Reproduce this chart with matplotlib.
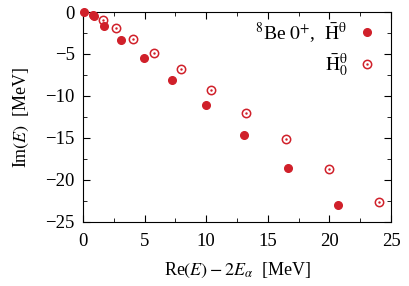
import matplotlib
matplotlib.use('Agg')
import matplotlib.pyplot as plt
from matplotlib.ticker import MultipleLocator
from matplotlib.lines import Line2D

plt.rcParams['font.family'] = ['Liberation Serif', 'DejaVu Serif']
plt.rcParams['mathtext.fontset'] = 'stix'

# H^theta (filled)
re_full = [0.08, 0.8, 0.9, 1.73, 3.11, 4.95, 7.25, 9.96, 13.1, 16.67, 20.67]
im_full = [0.0, -0.3, -0.5, -1.67, -3.33, -5.48, -8.1, -11.07, -14.6, -18.57, -23.0]
# H_0^theta (open)
re_zero = [1.6, 2.65, 4.03, 5.79, 7.93, 10.39, 13.23, 16.44, 20.0, 24.0]
im_zero = [-0.95, -1.9, -3.17, -4.84, -6.83, -9.25, -12.0, -15.12, -18.65, -22.58]

red = '#d0202a'

fig = plt.figure(figsize=(4.09, 2.86), dpi=100)
ax = fig.add_axes([0.203, 0.224, 0.753, 0.734])

ax.plot(re_full, im_full, 'o', color=red, ms=5.5, mec=red, clip_on=False, zorder=3)
ax.plot(re_zero, im_zero, 'o', color=red, ms=6, mfc='none', mew=1.1, clip_on=False)
ax.plot(re_zero, im_zero, '.', color=red, ms=1.5)

ax.set_xlim(0, 25)
ax.set_ylim(-25, 0)
ax.xaxis.set_major_locator(MultipleLocator(5))
ax.xaxis.set_minor_locator(MultipleLocator(2.5))
ax.yaxis.set_major_locator(MultipleLocator(5))
ax.yaxis.set_minor_locator(MultipleLocator(2.5))
ax.tick_params(which='both', direction='in', top=True, right=True, labelsize=13.5)
ax.tick_params(which='major', length=5)
ax.tick_params(which='minor', length=3)
ax.tick_params(axis='x', pad=8)
ax.tick_params(axis='y', pad=6)

ax.set_xlabel(r'Re$(E) - 2E_{\alpha}$  [MeV]', fontsize=13, labelpad=8)
ax.set_ylabel(r'Im$(E)$  [MeV]', fontsize=13, labelpad=10)

# legend handles: filled dot, open circle with centre dot
h_full = Line2D([], [], ls='none', marker='o', color=red, ms=5.5)
h_zero = (Line2D([], [], ls='none', marker='o', color=red, ms=6, mfc='none', mew=1.1),
          Line2D([], [], ls='none', marker='.', color=red, ms=1.5))
ax.legend([h_full, h_zero],
          [r'$^{8}$Be $0^{+}$,  $\bar{\mathrm{H}}^{\mathrm{\theta}}$',
           r'$\bar{\mathrm{H}}_{0}^{\mathrm{\theta}}$'],
          loc='upper right', bbox_to_anchor=(1.01, 1.045), frameon=False,
          markerfirst=False, fontsize=14, handletextpad=0.5,
          labelspacing=0.35, handlelength=1)

fig.savefig('out.png', dpi=100)
